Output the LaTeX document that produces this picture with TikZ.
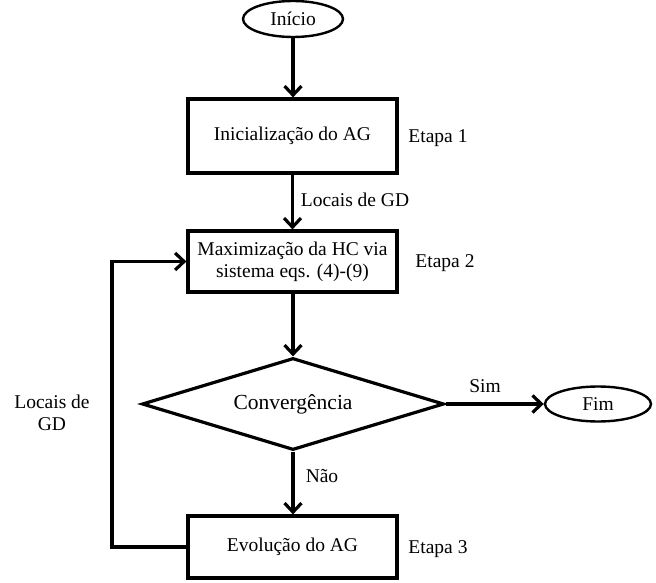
\documentclass[tikz,border=0pt]{standalone}
\usepackage{fontspec}
\setmainfont{Liberation Serif}
\usetikzlibrary{shapes.geometric,arrows.meta}
\begin{document}
\begin{tikzpicture}[x=1pt,y=-1pt,
  every node/.style={font=\fontsize{19.5}{22}\selectfont, inner sep=0pt},
  procbox/.style={draw, line width=3.2pt, minimum width=209pt, align=center},
  oval/.style={draw, ellipse, line width=2.4pt},
  decision/.style={draw, diamond, shape aspect=3.28, line width=3.2pt, minimum width=302pt, minimum height=92pt},
  arr/.style={line width=3.2pt, -{Straight Barb[length=9pt,width=17pt,line width=3.2pt]}}]
\useasboundingbox (0,0) rectangle (656,583);
\node[oval, minimum width=100pt, minimum height=36pt] (ini) at (293,19) {Início};
\node[procbox, minimum height=74pt] (b1) at (292.5,136) {Inicialização do AG};
\node[procbox, minimum height=61pt] (b2) at (292.5,261.5) {Maximização da HC via\\sistema eqs. (4)-(9)};
\node[decision, font=\fontsize{21.5}{24}\selectfont] (dec) at (293,404) {Convergência};
\node[oval, minimum width=106pt, minimum height=35pt] (fim) at (598,404) {Fim};
\node[procbox, minimum height=62pt] (b3) at (292.5,547) {Evolução do AG};
\node (e1) at (438,138) {Etapa 1};
\node (e2) at (445,263) {Etapa 2};
\node (e3) at (438,549) {Etapa 3};
\node (l1) at (355,200) {Locais de GD};
\node (sim) at (485,386) {Sim};
\node (nao) at (322,476) {Não};
\node[align=center] (l2) at (52,413) {Locais de\\GD};
\coordinate (fb) at (112,547);
\draw[arr] (ini) -- (ini |- b1.north);
\draw[arr] (b1) -- (b1 |- b2.north);
\draw[arr] (b2.south -| dec.north) -- (dec.north);
\draw[arr] (dec.east) -- (fim.west);
\draw[arr] (dec.south) -- (dec.south |- b3.north);
\draw[arr] (b3.west) -- (fb) |- (b2.west);
\end{tikzpicture}
\end{document}
